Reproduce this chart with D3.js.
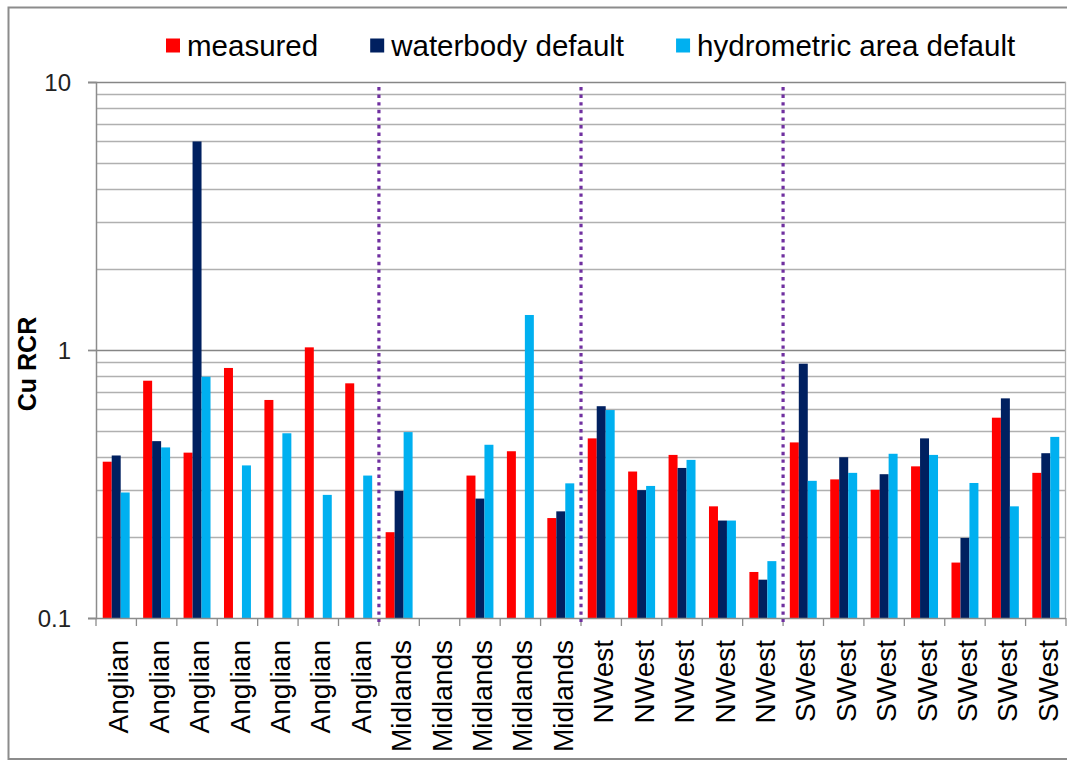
<!DOCTYPE html>
<html>
<head>
<meta charset="utf-8">
<script src="https://cdn.jsdelivr.net/npm/d3@7/dist/d3.min.js"></script>
<style>
  html, body { margin: 0; padding: 0; background: #fff; }
  svg { display: block; font-family: "Liberation Sans", Arial, sans-serif; }
</style>
</head>
<body>
<svg id="chart" width="1067" height="762"></svg>
<script>
// Region of each site
const categories = [
  "Anglian", "Anglian", "Anglian", "Anglian", "Anglian", "Anglian", "Anglian",
  "Midlands", "Midlands", "Midlands", "Midlands", "Midlands",
  "NWest", "NWest", "NWest", "NWest", "NWest",
  "SWest", "SWest", "SWest", "SWest", "SWest", "SWest", "SWest"
];

// Cu RCR per site (null = no value)
const measured = [0.383, 0.768, 0.414, 0.857, 0.651, 1.023, 0.751,
  0.209, null, 0.340, 0.419, 0.236,
  0.468, 0.352, 0.406, 0.261, 0.1485,
  0.452, 0.329, 0.301, 0.368, 0.161, 0.559, 0.348];
const waterbodyDefault = [0.404, 0.457, 6.0, null, null, null, null,
  0.298, null, 0.279, null, 0.250,
  0.617, 0.300, 0.363, 0.231, 0.139,
  0.889, 0.398, 0.344, 0.468, 0.199, 0.660, 0.412];
const hydrometricDefault = [0.294, 0.433, 0.795, 0.371, 0.489, 0.288, 0.340,
  0.494, null, 0.443, 1.351, 0.318,
  0.597, 0.311, 0.389, 0.231, 0.163,
  0.325, 0.348, 0.410, 0.406, 0.319, 0.261, 0.474];

const seriesNames = ["measured", "waterbody default", "hydrometric area default"];
const seriesColors = ["#ff0000", "#002060", "#00b0f0"];
const yTickValues = [0.1, 1, 10];
const yTickLabels = ["0.1", "1", "10"];

const series = [measured, waterbodyDefault, hydrometricDefault];

const svg = d3.select("#chart");
const plot = { left: 96, right: 1066, top: 82, bottom: 618 };

// Outer chart frame
svg.append("rect")
  .attr("x", 8.5).attr("y", 7.5)
  .attr("width", 1100).attr("height", 751.5)
  .attr("fill", "none").attr("stroke", "#8c8c8c").attr("stroke-width", 2);

const idx = d3.range(categories.length);
const x = d3.scaleBand().domain(idx).range([plot.left, plot.right]).paddingInner(0).paddingOuter(0);
const bw = x.bandwidth() / 4.5;           // three bars + 1.5 bar gap
const x1 = d3.scaleBand().domain(d3.range(series.length))
  .range([bw * 0.75, bw * 3.75]);

const y = d3.scaleLog().domain([0.1, 10]).range([plot.bottom, plot.top]);

// Gridlines: minor (2..9 per decade) and major (decades)
const minor = [];
[0.1, 1].forEach(d => { for (let k = 2; k <= 9; k++) minor.push(+(d * k).toFixed(3)); });
svg.append("g").selectAll("line").data(minor).join("line")
  .attr("x1", plot.left).attr("x2", plot.right)
  .attr("y1", d => Math.round(y(d)) + 0.5).attr("y2", d => Math.round(y(d)) + 0.5)
  .attr("stroke", "#b0b0b0").attr("stroke-width", 1.4);
svg.append("g").selectAll("line").data([1, 10]).join("line")
  .attr("x1", plot.left - 8).attr("x2", plot.right)
  .attr("y1", d => Math.round(y(d)) + 0.5).attr("y2", d => Math.round(y(d)) + 0.5)
  .attr("stroke", "#868686").attr("stroke-width", 1.4);

// Right edge of plot area
svg.append("line")
  .attr("x1", plot.right - 0.5).attr("x2", plot.right - 0.5)
  .attr("y1", plot.top).attr("y2", plot.bottom)
  .attr("stroke", "#b0b0b0").attr("stroke-width", 1.3);

// Bars
const groups = svg.append("g").selectAll("g").data(idx).join("g")
  .attr("transform", i => `translate(${x(i)},0)`);
groups.selectAll("rect")
  .data(i => series.map((s, k) => ({ k, v: s[i] })).filter(d => d.v != null))
  .join("rect")
  .attr("x", d => x1(d.k))
  .attr("width", x1.bandwidth())
  .attr("y", d => y(d.v))
  .attr("height", d => plot.bottom - y(d.v))
  .attr("fill", d => seriesColors[d.k]);

// Y axis
const yAxis = d3.axisLeft(y).tickValues(yTickValues)
  .tickFormat((d, i) => yTickLabels[i]).tickSize(8).tickPadding(17);
const gy = svg.append("g").attr("transform", `translate(${plot.left},0)`).call(yAxis);
gy.select(".domain").attr("stroke", "#8c8c8c").attr("stroke-width", 1.5);
gy.selectAll(".tick line").attr("stroke", "#8c8c8c").attr("stroke-width", 1.3);
gy.selectAll(".tick text").attr("font-size", 24).attr("fill", "#222")
  .attr("font-family", "Liberation Sans, Arial, sans-serif").attr("dy", "0.35em");

// X axis baseline and boundary ticks
svg.append("line")
  .attr("x1", plot.left - 8).attr("x2", plot.right)
  .attr("y1", plot.bottom + 0.5).attr("y2", plot.bottom + 0.5)
  .attr("stroke", "#8c8c8c").attr("stroke-width", 1.5);
svg.append("g").selectAll("line").data(d3.range(categories.length + 1)).join("line")
  .attr("x1", i => (i < categories.length ? x(i) : plot.right))
  .attr("x2", i => (i < categories.length ? x(i) : plot.right))
  .attr("y1", plot.bottom).attr("y2", plot.bottom + 8)
  .attr("stroke", "#8c8c8c").attr("stroke-width", 1.3);

// Category labels, rotated
svg.append("g").selectAll("text").data(idx).join("text")
  .attr("transform", i => `translate(${x(i) + x.bandwidth() / 2 + 2},640) rotate(-90)`)
  .attr("text-anchor", "end")
  .attr("dy", "0.36em")
  .attr("font-size", 28)
  .attr("fill", "#000")
  .text(i => categories[i]);

// Dotted dividers between regions
const dividers = idx.filter(i => i > 0 && categories[i] !== categories[i - 1]);
svg.append("g").selectAll("line").data(dividers).join("line")
  .attr("x1", i => x(i)).attr("x2", i => x(i))
  .attr("y1", 87).attr("y2", plot.bottom + 4)
  .attr("stroke", "#7030a0").attr("stroke-width", 3.2)
  .attr("stroke-dasharray", "3.4 4.2");

// Y axis title
svg.append("text")
  .attr("transform", "translate(36,364) rotate(-90)")
  .attr("text-anchor", "middle")
  .attr("font-size", 25).attr("font-weight", "bold")
  .text("Cu RCR");

// Legend
const legend = svg.append("g");
let lx = 166;
seriesNames.forEach((name, k) => {
  legend.append("rect").attr("x", lx).attr("y", 38.5)
    .attr("width", 14).attr("height", 14).attr("fill", seriesColors[k]);
  const t = legend.append("text").attr("x", lx + 21).attr("y", 56)
    .attr("font-size", 29.5).attr("fill", "#000").text(name);
  lx += 21 + t.node().getComputedTextLength() + 52;
});
</script>
</body>
</html>
